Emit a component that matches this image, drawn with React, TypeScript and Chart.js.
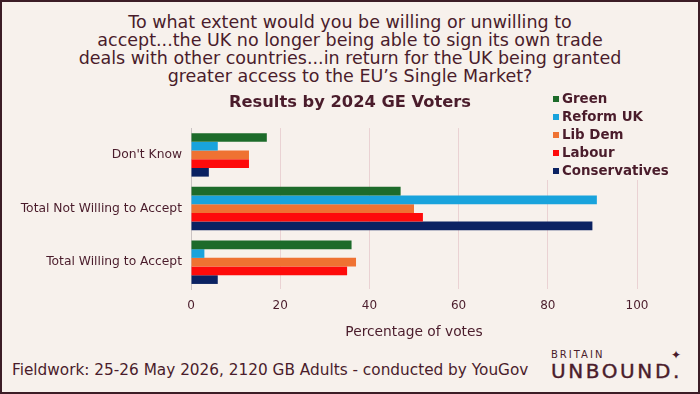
import React, { useEffect, useRef } from "react";
import { Chart, registerables } from "chart.js";

Chart.register(...registerables);

// ---- Data ----
const categories = ["Don't Know", "Total Not Willing to Accept", "Total Willing to Accept"];
const seriesNames = ["Green", "Reform UK", "Lib Dem", "Labour", "Conservatives"];
const green = [17, 47, 36];
const reformUK = [6, 91, 3];
const libDem = [13, 50, 37];
const labour = [13, 52, 35];
const conservatives = [4, 90, 6];
const seriesValues = [green, reformUK, libDem, labour, conservatives];
const seriesColors = ["#1d6b2a", "#19a3dc", "#ef7232", "#fe0b0b", "#0b2262"];
const xTickValues = [0, 20, 40, 60, 80, 100];

const questionLines = [
  "To what extent would you be willing or unwilling to",
  "accept...the UK no longer being able to sign its own trade",
  "deals with other countries...in return for the UK being granted",
  "greater access to the EU\u2019s Single Market?",
];
const chartTitle = "Results by 2024 GE Voters";
const xAxisTitle = "Percentage of votes";
const footerText = "Fieldwork: 25-26 May 2026, 2120 GB Adults - conducted by YouGov";

const TEXT = "#4a1c2b";
const BG = "#f7f1ec";
const FONT = "'DejaVu Sans', sans-serif";

const legendPlugin = {
  id: "customLegend",
  afterDraw(chart: any) {
    const ctx = chart.ctx as CanvasRenderingContext2D;
    ctx.save();
    ctx.fillStyle = BG;
    ctx.fillRect(545, 0, 150, 92);
    ctx.font = `bold 13.4px ${FONT}`;
    ctx.textBaseline = "middle";
    ctx.textAlign = "left";
    chart.data.datasets.forEach((ds: any, i: number) => {
      const y = 11 + i * 18;
      ctx.fillStyle = ds.backgroundColor;
      ctx.fillRect(553, y - 3, 6, 6);
      ctx.fillStyle = TEXT;
      ctx.fillText(ds.label, 562, y + 0.5);
    });
    ctx.restore();
  },
};

function ChartCanvas() {
  const ref = useRef<HTMLCanvasElement | null>(null);
  useEffect(() => {
    if (!ref.current) return;
    const chart = new Chart(ref.current, {
      type: "bar",
      data: {
        labels: categories,
        datasets: seriesNames.map((name, i) => ({
          label: name,
          data: seriesValues[i],
          backgroundColor: seriesColors[i],
          borderWidth: 0,
          categoryPercentage: 0.81,
          barPercentage: 1.0,
        })),
      },
      options: {
        indexAxis: "y",
        animation: false,
        responsive: false,
        devicePixelRatio: 1,
        layout: { padding: { left: 0, right: 0, top: 0, bottom: 2 } },
        plugins: {
          legend: { display: false },
          tooltip: { enabled: false },
          title: {
            display: true,
            text: chartTitle,
            color: TEXT,
            font: { family: FONT, size: 16.3, weight: "bold" },
            padding: { top: 5, bottom: 15.5 },
          },
        },
        scales: {
          x: {
            min: 0,
            max: 100,
            afterBuildTicks: (scale: any) => {
              scale.ticks = xTickValues.map((v) => ({ value: v }));
            },
            afterFit: (scale: any) => {
              scale.paddingRight = 63;
            },
            grid: { color: "#ead2d3", lineWidth: 1, drawTicks: false },
            border: { display: false },
            ticks: {
              color: TEXT,
              font: { family: FONT, size: 12 },
              padding: 10,
            },
            title: {
              display: true,
              text: xAxisTitle,
              color: TEXT,
              font: { family: FONT, size: 13.8 },
              padding: { top: 1, bottom: 0 },
            },
          },
          y: {
            afterFit: (scale: any) => {
              scale.width = 191;
            },
            grid: { display: false, drawTicks: false },
            border: { display: true, color: "#cbc3c3", width: 1 },
            ticks: {
              color: TEXT,
              font: { family: FONT, size: 12.3 },
              padding: 9,
            },
          },
        },
      },
      plugins: [legendPlugin],
    });
    return () => chart.destroy();
  }, []);
  return (
    <canvas
      ref={ref}
      width={700}
      height={255}
      style={{ position: "absolute", left: 0, top: 88, width: 700, height: 255 }}
    />
  );
}

export default function App() {
  return (
    <div
      style={{
        position: "relative",
        width: 700,
        height: 394,
        background: BG,
        overflow: "hidden",
        fontFamily: FONT,
        color: TEXT,
      }}
    >
      <style>{"body{margin:0;}"}</style>
      <div
        style={{
          position: "absolute",
          top: 13,
          left: 0,
          width: 700,
          textAlign: "center",
          fontSize: 17.5,
          lineHeight: "18px",
          whiteSpace: "nowrap",
        }}
      >
        {questionLines.map((l, i) => (
          <div key={i}>{l}</div>
        ))}
      </div>
      <ChartCanvas />
      <div
        style={{
          position: "absolute",
          left: 12,
          top: 360,
          fontSize: 15.3,
          lineHeight: "20px",
          whiteSpace: "nowrap",
        }}
      >
        {footerText}
      </div>
      <div style={{ position: "absolute", left: 551, top: 350, lineHeight: 1 }}>
        <div style={{ fontSize: 10, letterSpacing: 2 }}>BRITAIN</div>
        <div style={{ fontSize: 20, letterSpacing: 2.6, marginTop: 1, WebkitTextStroke: "0.4px #4a1c2b" }}>
          UNBOUND.
        </div>
      </div>
      <div style={{ position: "absolute", left: 671, top: 349, fontSize: 12, lineHeight: 1 }}>
        {"\u2726"}
      </div>
      <div
        style={{
          position: "absolute",
          inset: 0,
          border: "2px solid #3c1d26",
          pointerEvents: "none",
        }}
      />
    </div>
  );
}
